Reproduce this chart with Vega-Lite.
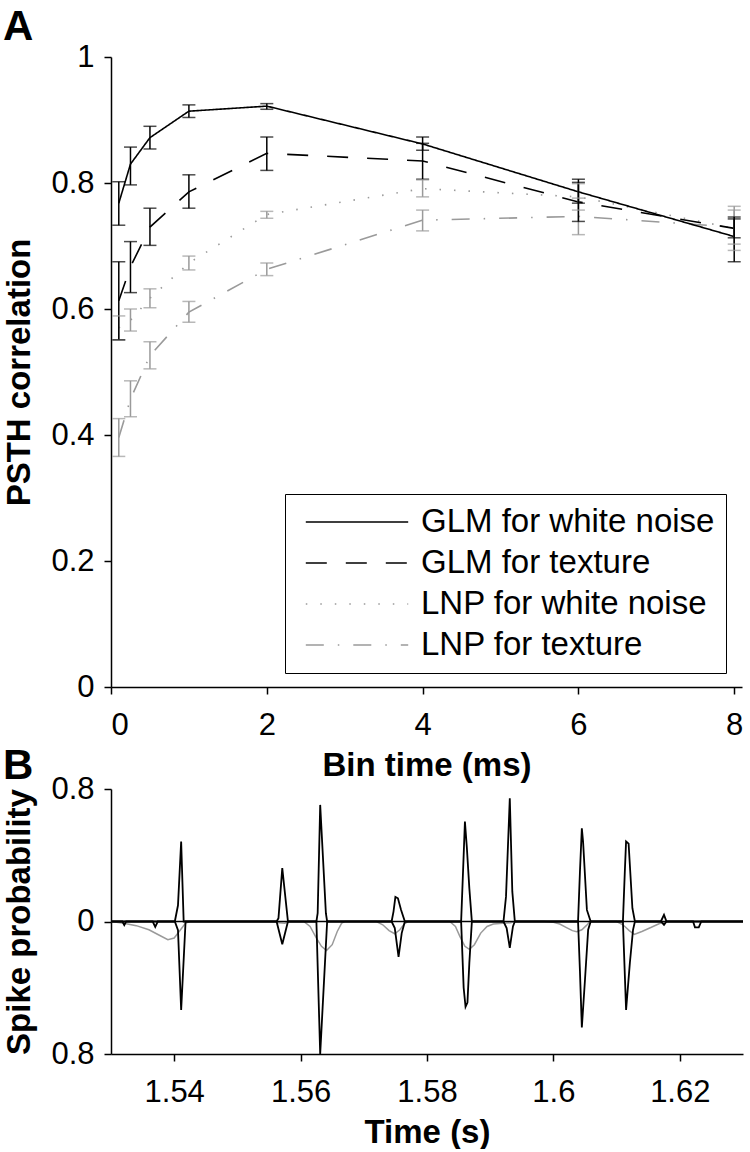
{
  "$schema": "https://vega.github.io/schema/vega-lite/v6.json",
  "background": "white",
  "padding": {"left": 2, "top": 6, "right": 4, "bottom": 0},
  "spacing": -37,
  "config": {
    "view": {"stroke": null},
    "font": "Liberation Sans",
    "axis": {
      "grid": false,
      "domainColor": "black",
      "domainWidth": 1.5,
      "tickColor": "black",
      "tickWidth": 1.5,
      "tickSize": 7,
      "labelFont": "Liberation Sans",
      "labelFontSize": 31,
      "labelColor": "black",
      "labelPadding": 10,
      "titleFont": "Liberation Sans",
      "titleFontSize": 33,
      "titleFontWeight": "bold",
      "titleColor": "black"
    },
    "axisY": {"minExtent": 63, "maxExtent": 63, "titlePadding": 12},
    "axisX": {"labelPadding": 16, "titlePadding": 9},
    "title": {"fontSize": 42, "fontWeight": "bold", "anchor": "start", "frame": "bounds", "color": "black", "font": "Liberation Sans"}
  },
  "datasets": {
    "corr": [
      {"model": "LNP for texture", "bin": 0.1, "r": 0.396, "lo": 0.366, "hi": 0.426},
      {"model": "LNP for texture", "bin": 0.25, "r": 0.457, "lo": 0.429, "hi": 0.486},
      {"model": "LNP for texture", "bin": 0.5, "r": 0.526, "lo": 0.505, "hi": 0.548},
      {"model": "LNP for texture", "bin": 1, "r": 0.595, "lo": 0.579, "hi": 0.612},
      {"model": "LNP for texture", "bin": 2, "r": 0.663, "lo": 0.653, "hi": 0.673},
      {"model": "LNP for texture", "bin": 4, "r": 0.741, "lo": 0.724, "hi": 0.757},
      {"model": "LNP for texture", "bin": 6, "r": 0.747, "lo": 0.718, "hi": 0.776},
      {"model": "LNP for texture", "bin": 8, "r": 0.730, "lo": 0.703, "hi": 0.757},
      {"model": "LNP for white noise", "bin": 0.1, "r": 0.570, "lo": 0.551, "hi": 0.589},
      {"model": "LNP for white noise", "bin": 0.25, "r": 0.582, "lo": 0.565, "hi": 0.600},
      {"model": "LNP for white noise", "bin": 0.5, "r": 0.617, "lo": 0.602, "hi": 0.632},
      {"model": "LNP for white noise", "bin": 1, "r": 0.673, "lo": 0.662, "hi": 0.684},
      {"model": "LNP for white noise", "bin": 2, "r": 0.750, "lo": 0.744, "hi": 0.755},
      {"model": "LNP for white noise", "bin": 4, "r": 0.791, "lo": 0.778, "hi": 0.805},
      {"model": "LNP for white noise", "bin": 6, "r": 0.778, "lo": 0.757, "hi": 0.799},
      {"model": "LNP for white noise", "bin": 8, "r": 0.728, "lo": 0.693, "hi": 0.763},
      {"model": "GLM for texture", "bin": 0.1, "r": 0.613, "lo": 0.551, "hi": 0.675},
      {"model": "GLM for texture", "bin": 0.25, "r": 0.667, "lo": 0.626, "hi": 0.707},
      {"model": "GLM for texture", "bin": 0.5, "r": 0.730, "lo": 0.701, "hi": 0.760},
      {"model": "GLM for texture", "bin": 1, "r": 0.786, "lo": 0.760, "hi": 0.813},
      {"model": "GLM for texture", "bin": 2, "r": 0.847, "lo": 0.820, "hi": 0.873},
      {"model": "GLM for texture", "bin": 4, "r": 0.835, "lo": 0.806, "hi": 0.863},
      {"model": "GLM for texture", "bin": 6, "r": 0.770, "lo": 0.739, "hi": 0.801},
      {"model": "GLM for texture", "bin": 8, "r": 0.728, "lo": 0.713, "hi": 0.743},
      {"model": "GLM for white noise", "bin": 0.1, "r": 0.768, "lo": 0.733, "hi": 0.802},
      {"model": "GLM for white noise", "bin": 0.25, "r": 0.830, "lo": 0.797, "hi": 0.857},
      {"model": "GLM for white noise", "bin": 0.5, "r": 0.872, "lo": 0.854, "hi": 0.890},
      {"model": "GLM for white noise", "bin": 1, "r": 0.914, "lo": 0.904, "hi": 0.924},
      {"model": "GLM for white noise", "bin": 2, "r": 0.922, "lo": 0.917, "hi": 0.926},
      {"model": "GLM for white noise", "bin": 4, "r": 0.862, "lo": 0.852, "hi": 0.873},
      {"model": "GLM for white noise", "bin": 6, "r": 0.786, "lo": 0.768, "hi": 0.806},
      {"model": "GLM for white noise", "bin": 8, "r": 0.715, "lo": 0.675, "hi": 0.746}
    ],
    "top": [
      {"t": 1.5300, "p": 0},
      {"t": 1.5401, "p": 0}, {"t": 1.5406, "p": 0.098}, {"t": 1.5411, "p": 0.483}, {"t": 1.5415, "p": 0},
      {"t": 1.5562, "p": 0}, {"t": 1.5565, "p": 0.02}, {"t": 1.5571, "p": 0.322}, {"t": 1.5580, "p": 0},
      {"t": 1.5625, "p": 0}, {"t": 1.5627, "p": 0.05}, {"t": 1.5631, "p": 0.704}, {"t": 1.5640, "p": 0.05}, {"t": 1.5642, "p": 0},
      {"t": 1.5744, "p": 0}, {"t": 1.5747, "p": 0.06}, {"t": 1.5750, "p": 0.148}, {"t": 1.5754, "p": 0.14}, {"t": 1.5759, "p": 0.07}, {"t": 1.5765, "p": 0},
      {"t": 1.5854, "p": 0}, {"t": 1.5858, "p": 0.40}, {"t": 1.5860, "p": 0.603}, {"t": 1.5863, "p": 0.45}, {"t": 1.5867, "p": 0.2}, {"t": 1.5871, "p": 0},
      {"t": 1.5921, "p": 0}, {"t": 1.5925, "p": 0.15}, {"t": 1.5931, "p": 0.744}, {"t": 1.5935, "p": 0.18}, {"t": 1.5939, "p": 0},
      {"t": 1.6039, "p": 0}, {"t": 1.6042, "p": 0.3}, {"t": 1.6045, "p": 0.563}, {"t": 1.6047, "p": 0.48}, {"t": 1.6053, "p": 0.07}, {"t": 1.6059, "p": 0},
      {"t": 1.6110, "p": 0}, {"t": 1.6113, "p": 0.3}, {"t": 1.6115, "p": 0.483}, {"t": 1.6119, "p": 0.47}, {"t": 1.6125, "p": 0.08}, {"t": 1.6129, "p": 0},
      {"t": 1.6170, "p": 0}, {"t": 1.6175, "p": 0.04}, {"t": 1.6179, "p": 0},
      {"t": 1.6300, "p": 0}
    ],
    "bottom": [
      {"t": 1.5300, "p": 0},
      {"t": 1.5318, "p": 0}, {"t": 1.5321, "p": -0.022}, {"t": 1.5324, "p": 0},
      {"t": 1.5366, "p": 0}, {"t": 1.5370, "p": -0.032}, {"t": 1.5374, "p": 0},
      {"t": 1.5401, "p": 0}, {"t": 1.5406, "p": -0.052}, {"t": 1.5411, "p": -0.534}, {"t": 1.5418, "p": 0},
      {"t": 1.5562, "p": 0}, {"t": 1.5571, "p": -0.137}, {"t": 1.5580, "p": 0},
      {"t": 1.5625, "p": 0}, {"t": 1.5631, "p": -0.8}, {"t": 1.5642, "p": 0},
      {"t": 1.5744, "p": 0}, {"t": 1.5749, "p": -0.04}, {"t": 1.5755, "p": -0.213}, {"t": 1.5760, "p": -0.07}, {"t": 1.5765, "p": 0},
      {"t": 1.5854, "p": 0}, {"t": 1.5858, "p": -0.40}, {"t": 1.5861, "p": -0.515}, {"t": 1.5864, "p": -0.49}, {"t": 1.5867, "p": -0.25}, {"t": 1.5871, "p": 0},
      {"t": 1.5921, "p": 0}, {"t": 1.5926, "p": -0.04}, {"t": 1.5931, "p": -0.159}, {"t": 1.5936, "p": -0.03}, {"t": 1.5939, "p": 0},
      {"t": 1.6039, "p": 0}, {"t": 1.6042, "p": -0.3}, {"t": 1.6045, "p": -0.64}, {"t": 1.6050, "p": -0.35}, {"t": 1.6055, "p": -0.05}, {"t": 1.6059, "p": 0},
      {"t": 1.6110, "p": 0}, {"t": 1.6115, "p": -0.534}, {"t": 1.6121, "p": -0.25}, {"t": 1.6126, "p": -0.05}, {"t": 1.6129, "p": 0},
      {"t": 1.6170, "p": 0}, {"t": 1.6175, "p": -0.02}, {"t": 1.6179, "p": 0},
      {"t": 1.6221, "p": 0}, {"t": 1.6224, "p": -0.035}, {"t": 1.6230, "p": -0.035}, {"t": 1.6234, "p": 0},
      {"t": 1.6300, "p": 0}
    ],
    "lnp": [
      {"t": 1.5300, "p": 0}, {"t": 1.5320, "p": -0.01}, {"t": 1.5340, "p": -0.025}, {"t": 1.5360, "p": -0.05}, {"t": 1.5375, "p": -0.08}, {"t": 1.5390, "p": -0.11}, {"t": 1.5400, "p": -0.10}, {"t": 1.5410, "p": -0.05}, {"t": 1.5418, "p": -0.01}, {"t": 1.5425, "p": 0},
      {"t": 1.5560, "p": 0}, {"t": 1.5565, "p": -0.008}, {"t": 1.5575, "p": -0.01}, {"t": 1.5582, "p": 0},
      {"t": 1.5605, "p": 0}, {"t": 1.5615, "p": -0.03}, {"t": 1.5625, "p": -0.10}, {"t": 1.5633, "p": -0.15}, {"t": 1.5641, "p": -0.175}, {"t": 1.5650, "p": -0.14}, {"t": 1.5658, "p": -0.06}, {"t": 1.5665, "p": -0.01}, {"t": 1.5670, "p": 0},
      {"t": 1.5720, "p": 0}, {"t": 1.5730, "p": -0.02}, {"t": 1.5740, "p": -0.055}, {"t": 1.5749, "p": -0.074}, {"t": 1.5757, "p": -0.05}, {"t": 1.5764, "p": -0.015}, {"t": 1.5770, "p": 0},
      {"t": 1.5836, "p": 0}, {"t": 1.5845, "p": -0.03}, {"t": 1.5852, "p": -0.09}, {"t": 1.5860, "p": -0.15}, {"t": 1.5867, "p": -0.168}, {"t": 1.5875, "p": -0.14}, {"t": 1.5885, "p": -0.07}, {"t": 1.5895, "p": -0.03}, {"t": 1.5905, "p": -0.015}, {"t": 1.5920, "p": -0.01}, {"t": 1.5932, "p": -0.008}, {"t": 1.5940, "p": 0},
      {"t": 1.5985, "p": 0}, {"t": 1.6000, "p": -0.005}, {"t": 1.6010, "p": -0.015}, {"t": 1.6020, "p": -0.035}, {"t": 1.6030, "p": -0.055}, {"t": 1.6037, "p": -0.062}, {"t": 1.6045, "p": -0.05}, {"t": 1.6052, "p": -0.025}, {"t": 1.6058, "p": 0},
      {"t": 1.6100, "p": 0}, {"t": 1.6110, "p": -0.02}, {"t": 1.6120, "p": -0.055}, {"t": 1.6128, "p": -0.078}, {"t": 1.6140, "p": -0.06}, {"t": 1.6155, "p": -0.035}, {"t": 1.6168, "p": -0.012}, {"t": 1.6178, "p": 0},
      {"t": 1.6300, "p": 0}
    ]
  },
  "vconcat": [
    {
      "width": 631,
      "height": 630,
      "title": {"text": "A", "offset": -8},
      "data": {"name": "corr"},
      "resolve": {"legend": {"color": "independent", "strokeDash": "independent"}},
      "layer": [
        {
          "mark": {"type": "line", "strokeWidth": 1.6},
          "encoding": {
            "x": {"field": "bin", "type": "quantitative", "scale": {"domain": [0, 8.1], "nice": false},
                  "axis": {"title": "Bin time (ms)", "values": [0, 2, 4, 6, 8], "format": "~g"}},
            "y": {"field": "r", "type": "quantitative", "scale": {"domain": [0, 1], "nice": false},
                  "axis": {"title": "PSTH correlation", "values": [0, 0.2, 0.4, 0.6, 0.8, 1], "format": "~g"}},
            "color": {"field": "model", "type": "nominal",
                      "scale": {"domain": ["GLM for white noise", "GLM for texture", "LNP for white noise", "LNP for texture"], "range": ["#000000", "#000000", "#9a9a9a", "#9a9a9a"]},
                      "legend": {"title": null, "orient": "none", "legendX": 174, "legendY": 437,
                                 "symbolType": "M-3.2,0H3.2", "symbolSize": 1024, "symbolStrokeWidth": 1.6, "symbolOffset": 44,
                                 "labelFontSize": 33, "labelColor": "black", "labelFont": "Liberation Sans",
                                 "labelLimit": 500, "labelOffset": 47, "padding": 11, "rowPadding": 7,
                                 "strokeColor": "black", "fillColor": "white"}},
            "strokeDash": {"field": "model", "type": "nominal",
                           "scale": {"domain": ["GLM for white noise", "GLM for texture", "LNP for white noise", "LNP for texture"],
                                     "range": [[1, 0], [21, 19], [1.5, 13], [18, 14, 1.5, 14]]},
                           "legend": {"title": null, "orient": "none", "legendX": 174, "legendY": 437,
                                      "symbolType": "M-3.2,0H3.2", "symbolSize": 1024, "symbolStrokeWidth": 1.6, "symbolOffset": 44,
                                      "labelFontSize": 33, "labelColor": "black", "labelFont": "Liberation Sans",
                                      "labelLimit": 500, "labelOffset": 47, "padding": 11, "rowPadding": 7,
                                      "strokeColor": "black", "fillColor": "white"}}
          }
        },
        {
          "mark": {"type": "rule", "strokeWidth": 1.5},
          "encoding": {
            "x": {"field": "bin", "type": "quantitative"},
            "y": {"field": "lo", "type": "quantitative"},
            "y2": {"field": "hi"},
            "color": {"field": "model", "type": "nominal", "legend": null}
          }
        },
        {
          "mark": {"type": "tick", "orient": "horizontal", "size": 13, "thickness": 1.5},
          "encoding": {
            "x": {"field": "bin", "type": "quantitative"},
            "y": {"field": "lo", "type": "quantitative"},
            "color": {"field": "model", "type": "nominal", "legend": null}
          }
        },
        {
          "mark": {"type": "tick", "orient": "horizontal", "size": 13, "thickness": 1.5},
          "encoding": {
            "x": {"field": "bin", "type": "quantitative"},
            "y": {"field": "hi", "type": "quantitative"},
            "color": {"field": "model", "type": "nominal", "legend": null}
          }
        }
      ]
    },
    {
      "width": 632,
      "height": 265,
      "title": {"text": "B", "offset": -15},
      "layer": [
        {
          "data": {"name": "lnp"},
          "mark": {"type": "line", "color": "#9a9a9a", "strokeWidth": 1.5, "clip": true},
          "encoding": {
            "x": {"field": "t", "type": "quantitative", "scale": {"domain": [1.53, 1.63], "nice": false, "zero": false},
                  "axis": {"title": "Time (s)", "values": [1.54, 1.56, 1.58, 1.6, 1.62], "format": "~g"}},
            "y": {"field": "p", "type": "quantitative", "scale": {"domain": [-0.8, 0.8], "nice": false},
                  "axis": {"title": "Spike probability", "values": [-0.8, 0, 0.8],
                           "labelExpr": "datum.value == 0 ? '0' : format(abs(datum.value), '.1f')"}}
          }
        },
        {
          "data": {"name": "top"},
          "mark": {"type": "line", "color": "black", "strokeWidth": 1.8, "clip": true},
          "encoding": {
            "x": {"field": "t", "type": "quantitative"},
            "y": {"field": "p", "type": "quantitative"}
          }
        },
        {
          "data": {"name": "bottom"},
          "mark": {"type": "line", "color": "black", "strokeWidth": 1.8, "clip": true},
          "encoding": {
            "x": {"field": "t", "type": "quantitative"},
            "y": {"field": "p", "type": "quantitative"}
          }
        },
        {
          "data": {"values": [{"z": 0}]},
          "mark": {"type": "rule", "color": "black", "strokeWidth": 1.5},
          "encoding": {"y": {"field": "z", "type": "quantitative"}}
        }
      ]
    }
  ]
}
